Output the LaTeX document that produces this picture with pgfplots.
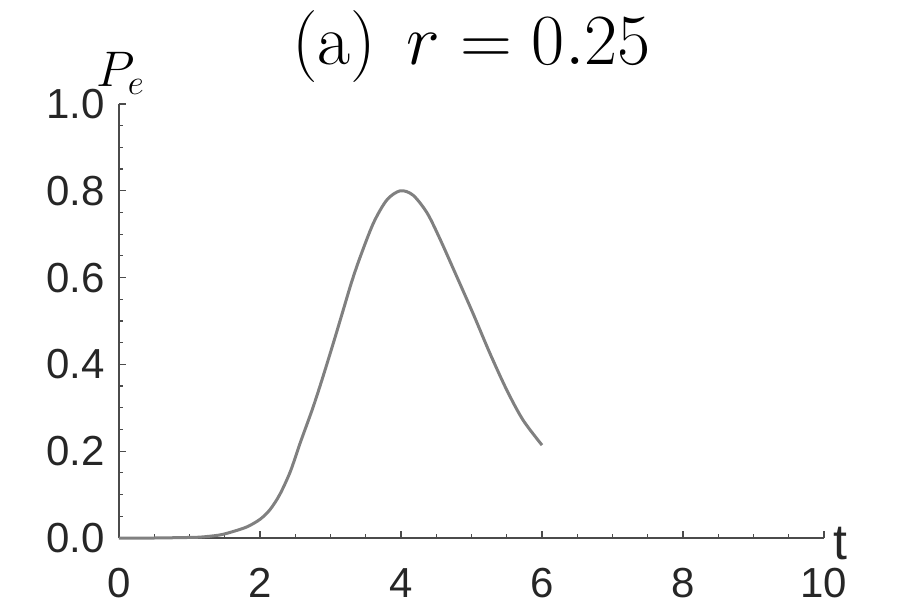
\RequirePackage{fix-cm}
\documentclass[border=0pt]{standalone}
\usepackage{fontspec}
\newfontfamily\arialfont{Liberation Sans}
\usepackage{pgfplots}
\pgfplotsset{compat=1.18}
\definecolor{curvegray}{RGB}{128,128,128}
\definecolor{axisgray}{RGB}{75,75,75}

\begin{document}
\begin{tikzpicture}
\begin{axis}[
  at={(0,0)}, anchor=south west,
  scale only axis,
  width=352.5pt, height=217pt,
  xmin=0, xmax=10, ymin=0, ymax=1,
  axis lines*=left,
  axis line style={draw=axisgray, line width=0.8pt},
  every tick/.style={draw=axisgray, line width=0.6pt},
  tick align=inside,
  major tick length=3.5pt,
  minor tick length=2pt,
  xtick={0,2,...,10},
  ytick={0,0.2,0.4,0.6,0.8,1.0},
  minor x tick num=3,
  minor y tick num=3,
  tick label style={font=\arialfont\fontsize{21}{24}\selectfont, text=black!85},
  /pgf/number format/assume math mode=true,
  yticklabel style={/pgf/number format/fixed, /pgf/number format/fixed zerofill,
    /pgf/number format/precision=1, anchor=east, xshift=-3.5pt},
  xticklabel style={anchor=north, inner sep=0pt, yshift=-15pt},
  clip=false,
]
% P_e(t)
\addplot[color=curvegray, line width=1.5pt, smooth] coordinates {
  (0,0) (0.5,0) (0.9,0.001) (1.15,0.002) (1.43,0.007) (1.62,0.015)
  (1.82,0.026) (2.0,0.043) (2.14,0.065) (2.28,0.100) (2.43,0.153)
  (2.57,0.219) (2.75,0.30) (2.89,0.37) (3.04,0.449) (3.18,0.525)
  (3.30,0.590) (3.42,0.647) (3.61,0.726) (3.80,0.779) (3.99,0.800)
  (4.17,0.790) (4.37,0.749) (4.55,0.690) (4.77,0.610) (5.02,0.518)
  (5.26,0.426) (5.50,0.341) (5.73,0.272) (6.0,0.214)
};
\node[anchor=base, inner sep=0pt, yshift=19.5pt, font=\fontsize{36}{40}\selectfont]
  at (rel axis cs:0.5,1) {(a)\hspace{0.42em}$r=0.25$};
\node[anchor=base west, inner sep=0pt, xshift=4.5pt, yshift=-10.5pt,
      font=\arialfont\fontsize{25}{28}\selectfont, text=black!85] at (rel axis cs:1,0) {t};
\node[anchor=base west, inner sep=0pt, xshift=-11.5pt, yshift=8.5pt,
      font=\fontsize{25}{28}\selectfont] at (rel axis cs:0,1) {$P_e$};
\end{axis}
\useasboundingbox (-59.5pt,-33.5pt) rectangle (395.5pt,269pt);
\end{tikzpicture}
\end{document}
